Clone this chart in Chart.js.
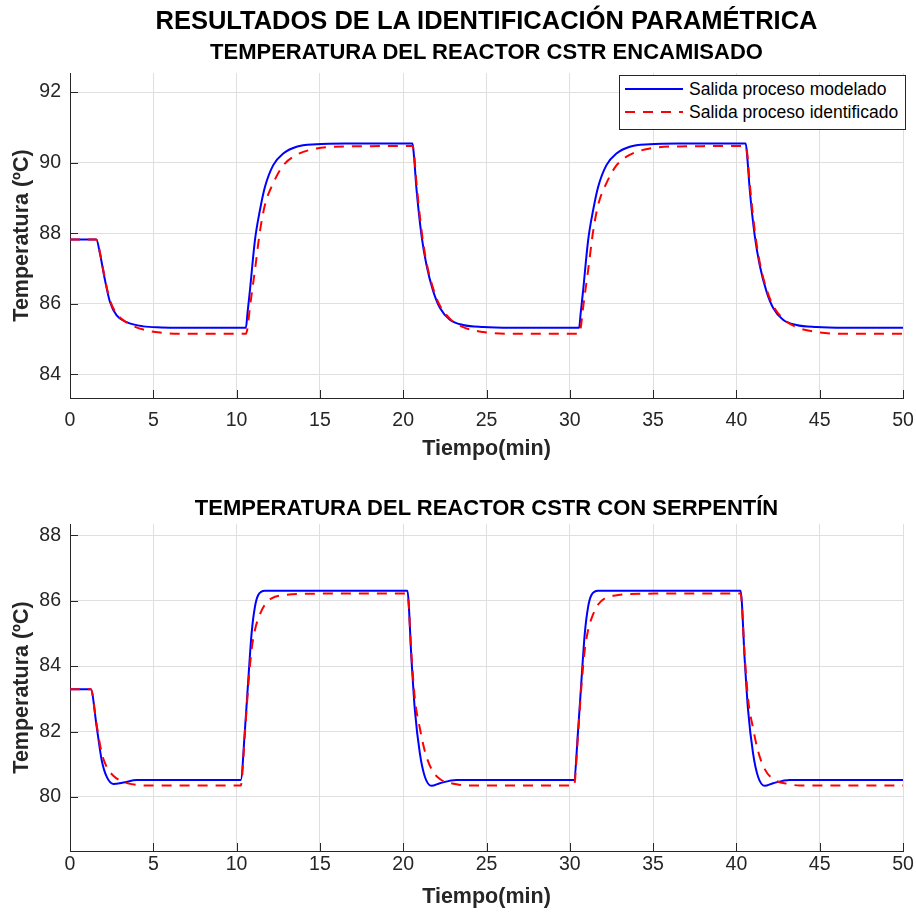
<!DOCTYPE html>
<html><head><meta charset="utf-8">
<script src="https://cdn.jsdelivr.net/npm/chart.js@4.4.0/dist/chart.umd.min.js"></script>
<style>
body{margin:0;background:#fff;}
#wrap{position:relative;width:916px;height:912px;overflow:hidden;font-family:'Liberation Sans',Arial,sans-serif;}
.ttl{position:absolute;left:70px;width:833px;text-align:center;font-weight:bold;color:#000;white-space:nowrap;}
canvas{position:absolute;left:0;}
#leg{position:absolute;left:619px;top:75px;width:287px;height:55px;box-sizing:border-box;border:1px solid #262626;background:#fff;}
.row{position:absolute;left:5px;height:22px;display:flex;align-items:center;font-size:17.5px;color:#000;white-space:nowrap;}
.row svg{margin-right:6px;}
</style></head>
<body>
<div id="wrap">
  <canvas id="c1" width="916" height="470" style="top:0px"></canvas>
  <canvas id="c2" width="916" height="442" style="top:470px"></canvas>
  <div class="ttl" style="top:5px;font-size:25.5px;line-height:30px;">RESULTADOS DE LA IDENTIFICACIÓN PARAMÉTRICA</div>
  <div class="ttl" style="top:39px;font-size:22px;line-height:26px;">TEMPERATURA DEL REACTOR CSTR ENCAMISADO</div>
  <div class="ttl" style="top:495px;font-size:22px;line-height:26px;">TEMPERATURA DEL REACTOR CSTR CON SERPENTÍN</div>
  <div id="leg">
    <div class="row" style="top:2px;"><svg width="58" height="4"><line x1="0" y1="2" x2="58" y2="2" stroke="#0000ff" stroke-width="2"/></svg><span>Salida proceso modelado</span></div>
    <div class="row" style="top:25px;"><svg width="58" height="4"><line x1="0" y1="2" x2="58" y2="2" stroke="#ff0000" stroke-width="2" stroke-dasharray="10,8"/></svg><span>Salida proceso identificado</span></div>
  </div>
</div>
<script>
// ---------- DATA ----------
const xTicks = [0, 5, 10, 15, 20, 25, 30, 35, 40, 45, 50];
const yTicks1 = [84, 86, 88, 90, 92];
const yTicks2 = [80, 82, 84, 86, 88];

// Reactor CSTR encamisado
const t1 = [0, 1.58, 1.8, 2.1, 2.4, 2.8, 3.4, 4.4, 5.5, 6.5, 10.56,
  10.65, 10.8, 11.1, 11.4, 11.7, 12.2, 12.8, 13.6, 14.8, 16.5, 20.56,
  20.65, 20.8, 21.1, 21.4, 21.8, 22.2, 22.8, 23.6, 24.8, 26.5, 30.56,
  30.65, 30.8, 31.1, 31.4, 31.7, 32.2, 32.8, 33.6, 34.8, 36.5, 40.56,
  40.65, 40.8, 41.1, 41.4, 41.8, 42.2, 42.8, 43.6, 44.8, 46.5, 50];
const modelado1 = [87.82, 87.82, 87.42, 86.67, 86.05, 85.67, 85.48, 85.36, 85.33, 85.32, 85.32,
  85.72, 86.38, 87.80, 88.65, 89.31, 89.93, 90.26, 90.45, 90.52, 90.54, 90.54,
  90.17, 89.24, 87.93, 87.09, 86.36, 85.89, 85.55, 85.40, 85.34, 85.32, 85.32,
  85.72, 86.38, 87.80, 88.65, 89.31, 89.93, 90.26, 90.45, 90.52, 90.54, 90.54,
  90.17, 89.24, 87.93, 87.09, 86.36, 85.89, 85.55, 85.40, 85.34, 85.32, 85.32];
const identificado1 = [87.82, 87.82, 87.45, 86.70, 86.10, 85.72, 85.47, 85.27, 85.18, 85.15, 85.15,
  85.30, 85.90, 86.95, 88.05, 88.80, 89.42, 89.92, 90.22, 90.40, 90.46, 90.47,
  90.26, 89.41, 88.08, 87.17, 86.43, 85.95, 85.58, 85.34, 85.20, 85.15, 85.15,
  85.30, 85.90, 86.95, 88.05, 88.80, 89.42, 89.92, 90.22, 90.40, 90.46, 90.47,
  90.26, 89.41, 88.08, 87.17, 86.43, 85.95, 85.58, 85.34, 85.20, 85.15, 85.15];

// Reactor CSTR con serpentín
const t2 = [0, 1.25, 1.6, 1.9, 2.2, 2.6, 3.2, 4.0, 5.0, 10.25,
  10.5, 10.7, 10.9, 11.1, 11.3, 11.7, 12.1, 12.9, 14.3, 20.25,
  20.5, 20.7, 21.0, 21.3, 21.7, 22.2, 23.2, 23.8, 25.0, 30.25,
  30.5, 30.7, 30.9, 31.1, 31.3, 31.7, 32.1, 32.9, 34.3, 40.25,
  40.5, 40.7, 41.0, 41.3, 41.7, 42.2, 43.2, 43.8, 45.0, 50];
const modelado2 = [83.29, 83.29, 82.15, 81.13, 80.62, 80.40, 80.44, 80.52, 80.52, 80.52,
  82.05, 83.57, 85.00, 85.81, 86.17, 86.30, 86.30, 86.30, 86.30, 86.30,
  84.18, 82.66, 81.33, 80.62, 80.34, 80.42, 80.52, 80.52, 80.52, 80.52,
  82.05, 83.57, 85.00, 85.81, 86.17, 86.30, 86.30, 86.30, 86.30, 86.30,
  84.18, 82.66, 81.33, 80.62, 80.34, 80.42, 80.52, 80.52, 80.52, 80.52];
const identificado2 = [83.29, 83.29, 82.20, 81.35, 80.92, 80.65, 80.46, 80.37, 80.35, 80.35,
  81.95, 83.40, 84.50, 85.10, 85.45, 85.88, 86.07, 86.17, 86.21, 86.22,
  84.30, 83.00, 82.10, 81.40, 80.85, 80.55, 80.39, 80.35, 80.35, 80.35,
  81.95, 83.40, 84.50, 85.10, 85.45, 85.88, 86.07, 86.17, 86.21, 86.22,
  84.30, 83.00, 82.10, 81.40, 80.85, 80.55, 80.39, 80.35, 80.35, 80.35];

const labelModelo = 'Salida proceso modelado';
const labelIdent = 'Salida proceso identificado';
// ---------- END DATA ----------

const FAM = "'Liberation Sans', Arial, Helvetica, sans-serif";
const AX = '#262626';

const inTicks = {
  id: 'inTicks',
  beforeDatasetsDraw(chart) {
    const {ctx, chartArea: a, scales: {x, y}} = chart;
    ctx.save();
    ctx.strokeStyle = AX; ctx.lineWidth = 1;
    ctx.beginPath();
    x.ticks.forEach(tk => { const p = Math.round(x.getPixelForValue(tk.value)) + 0.5; ctx.moveTo(p, a.bottom); ctx.lineTo(p, a.bottom - 8); });
    y.ticks.forEach(tk => { const p = Math.round(y.getPixelForValue(tk.value)) + 0.5; ctx.moveTo(a.left, p); ctx.lineTo(a.left + 8, p); });
    ctx.stroke();
    ctx.restore();
  }
};

function pts(t, v) { return t.map((x, k) => ({x: x, y: v[k]})); }

function makeChart(id, t, m, idn, yMin, yMax, yTicks, cfg) {
  return new Chart(document.getElementById(id), {
    type: 'line',
    data: {
      datasets: [
        {label: labelIdent, data: pts(t, idn), borderColor: '#ff0000', borderDash: [10, 8], borderWidth: 2, order: 0},
        {label: labelModelo, data: pts(t, m), borderColor: '#0000ff', borderWidth: 2, order: 1}
      ]
    },
    options: {
      animation: false, responsive: false, devicePixelRatio: 1,
      layout: {padding: {top: cfg.top, right: 13, left: 0, bottom: 0}},
      plugins: {legend: {display: false}, tooltip: {enabled: false}, title: {display: false}},
      elements: {point: {radius: 0}, line: {cubicInterpolationMode: 'monotone', fill: false}},
      scales: {
        x: {
          type: 'linear', min: 0, max: 50,
          afterBuildTicks: s => { s.ticks = xTicks.map(v => ({value: v})); },
          afterFit: s => { s.height = cfg.xH; },
          grid: {color: '#dfdfdf', drawTicks: false, lineWidth: 1},
          border: {color: AX, width: 1},
          ticks: {padding: 2, color: AX, font: {size: 19.5, family: FAM, lineHeight: cfg.xLh}, maxRotation: 0, autoSkip: false},
          title: {display: true, text: 'Tiempo(min)', color: AX, font: {size: 21.5, weight: 'bold', family: FAM}, padding: {top: 0, bottom: cfg.xTpb}}
        },
        y: {
          type: 'linear', min: yMin, max: yMax,
          afterBuildTicks: s => { s.ticks = yTicks.map(v => ({value: v})); },
          afterFit: s => { s.width = 70; },
          grid: {color: '#dfdfdf', drawTicks: false, lineWidth: 1},
          border: {color: AX, width: 1},
          ticks: {padding: 9, color: AX, font: {size: 19.5, family: FAM}},
          title: {display: true, text: 'Temperatura (ºC)', color: AX, font: {size: 21.5, weight: 'bold', family: FAM}, padding: {top: 9, bottom: 0}}
        }
      }
    },
    plugins: [inTicks]
  });
}

makeChart('c1', t1, modelado1, identificado1, 83.33, 92.54, yTicks1, {top: 73, xH: 72, xLh: 2.15, xTpb: 8});
makeChart('c2', t2, modelado2, identificado2, 78.35, 88.34, yTicks2, {top: 54, xH: 61, xLh: 1.2, xTpb: 2});
</script>
</body></html>
